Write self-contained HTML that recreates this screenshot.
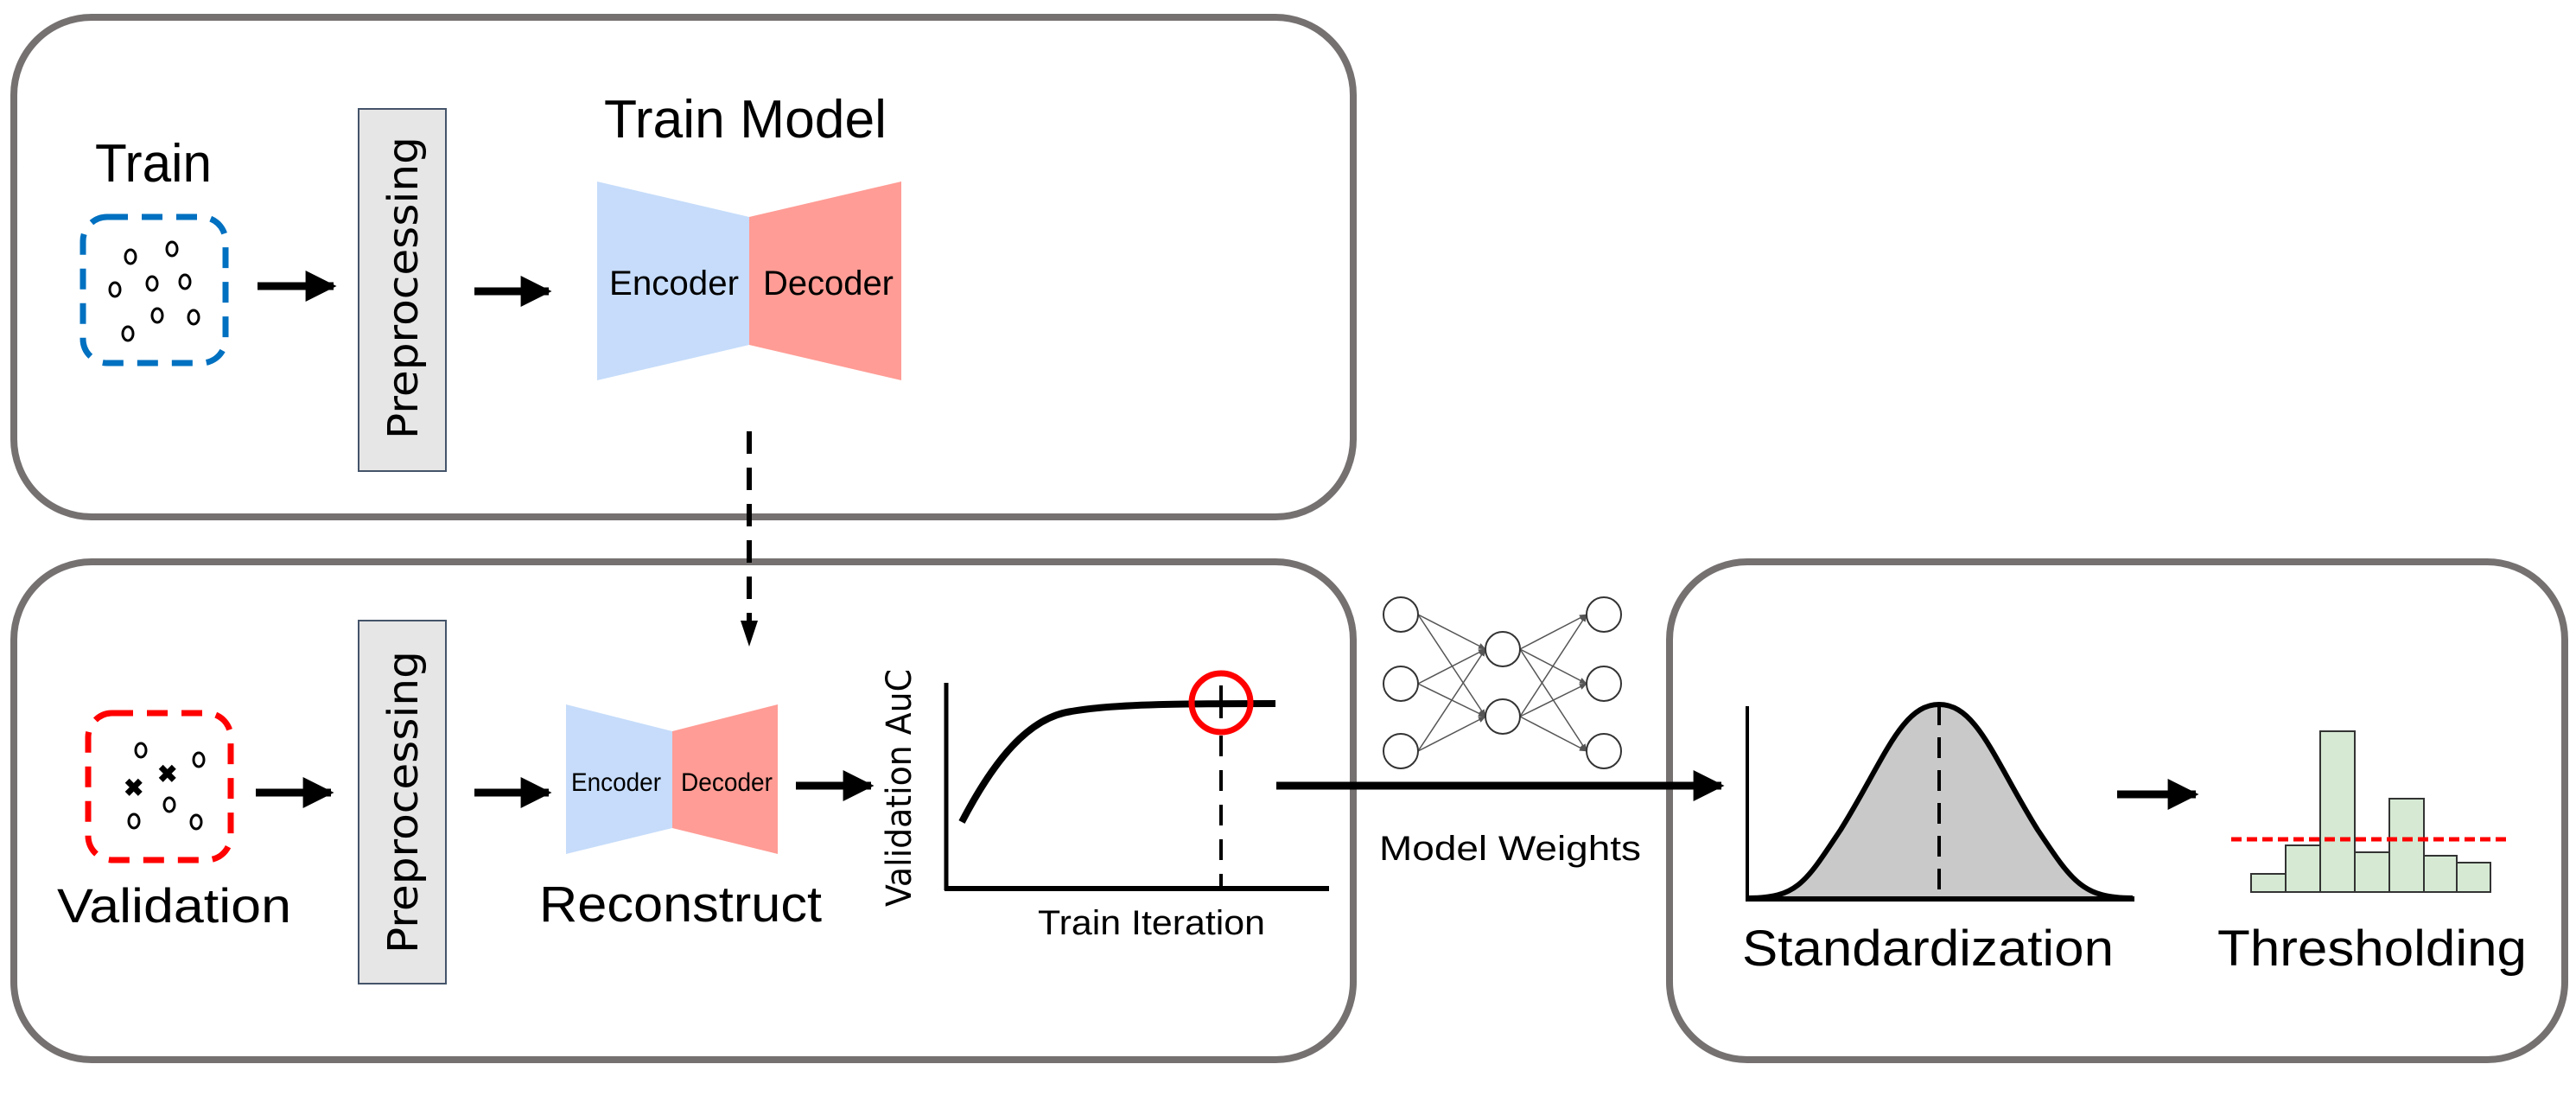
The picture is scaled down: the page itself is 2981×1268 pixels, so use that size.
<!DOCTYPE html>
<html><head><meta charset="utf-8"><style>
html,body{margin:0;padding:0;background:#fff;}
svg{display:block;}
text{font-family:"Liberation Sans Narrow","Liberation Sans",sans-serif;fill:#000;}
.dv{font-family:"DejaVu Sans","Liberation Sans",sans-serif;}
</style></head><body>
<svg width="2981" height="1268" viewBox="0 0 2981 1268" xmlns="http://www.w3.org/2000/svg">
<defs>
<marker id="ah" viewBox="0 0 10 10" refX="9" refY="5" markerWidth="4" markerHeight="4" orient="auto" markerUnits="strokeWidth"><path d="M0,0 L10,5 L0,10 z" fill="#000"/></marker>
<marker id="sm" viewBox="0 0 10 10" refX="9" refY="5" markerWidth="6" markerHeight="6" orient="auto" markerUnits="strokeWidth"><path d="M0,1 L10,5 L0,9 z" fill="#555"/></marker>
</defs>
<!-- Boxes -->
<rect x="16" y="20" width="1550" height="578" rx="90" fill="none" stroke="#767171" stroke-width="8"/>
<rect x="16" y="650" width="1550" height="576" rx="90" fill="none" stroke="#767171" stroke-width="8"/>
<rect x="1932" y="650" width="1036" height="576" rx="90" fill="none" stroke="#767171" stroke-width="8"/>

<!-- Top: train -->
<text x="110" y="210" font-size="62" textLength="135" lengthAdjust="spacingAndGlyphs">Train</text>
<rect x="96" y="251" width="165" height="169" rx="28" fill="none" stroke="#0070C0" stroke-width="7" stroke-dasharray="24 16"/>
<g fill="none" stroke="#000" stroke-width="3">
<ellipse cx="151" cy="297" rx="6" ry="8"/><ellipse cx="199" cy="288" rx="6" ry="8"/>
<ellipse cx="133" cy="335" rx="6" ry="8"/><ellipse cx="176" cy="328" rx="6" ry="8"/><ellipse cx="214" cy="326" rx="6" ry="8"/>
<ellipse cx="182" cy="365" rx="6" ry="8"/><ellipse cx="224" cy="367" rx="6" ry="8"/><ellipse cx="148" cy="386" rx="6" ry="8"/>
</g>
<line x1="298" y1="331" x2="386" y2="331" stroke="#000" stroke-width="9" marker-end="url(#ah)"/>
<rect x="415" y="126" width="101" height="419" fill="#e7e6e6" stroke="#44546A" stroke-width="2"/>
<text class="dv" x="0" y="0" font-size="48" textLength="350" lengthAdjust="spacingAndGlyphs" transform="translate(483,508) rotate(-90)">Preprocessing</text>
<line x1="549" y1="337" x2="635" y2="337" stroke="#000" stroke-width="9" marker-end="url(#ah)"/>
<text x="699" y="159" font-size="62" textLength="327" lengthAdjust="spacingAndGlyphs">Train Model</text>
<polygon points="691,210 867,251 867,399 691,440" fill="#c6dcfa"/>
<polygon points="867,251 1043,210 1043,440 867,399" fill="#ff9c95"/>
<text x="705" y="341" font-size="40" textLength="150" lengthAdjust="spacingAndGlyphs">Encoder</text>
<text x="883" y="341" font-size="40" textLength="151" lengthAdjust="spacingAndGlyphs">Decoder</text>
<line x1="867" y1="499" x2="867" y2="725" stroke="#000" stroke-width="6" stroke-dasharray="26 16"/>
<polygon points="857,718 877,718 867,748" fill="#000"/>

<!-- Bottom-left: validation -->
<rect x="102" y="825" width="165" height="170" rx="28" fill="none" stroke="#f00" stroke-width="7" stroke-dasharray="24 16"/>
<g fill="none" stroke="#000" stroke-width="3">
<ellipse cx="163" cy="868" rx="6" ry="8"/><ellipse cx="230" cy="879" rx="6" ry="8"/>
<ellipse cx="196" cy="931" rx="6" ry="8"/><ellipse cx="155" cy="950" rx="6" ry="8"/><ellipse cx="227" cy="951" rx="6" ry="8"/>
</g>
<text x="182" y="905" font-size="28" font-weight="bold">✖</text>
<text x="143" y="921" font-size="28" font-weight="bold">✖</text>
<text x="66" y="1067" font-size="56" textLength="271" lengthAdjust="spacingAndGlyphs">Validation</text>
<line x1="296" y1="917" x2="383" y2="917" stroke="#000" stroke-width="9" marker-end="url(#ah)"/>
<rect x="415" y="718" width="101" height="420" fill="#e7e6e6" stroke="#44546A" stroke-width="2"/>
<text class="dv" x="0" y="0" font-size="48" textLength="350" lengthAdjust="spacingAndGlyphs" transform="translate(483,1103) rotate(-90)">Preprocessing</text>
<line x1="549" y1="917" x2="635" y2="917" stroke="#000" stroke-width="9" marker-end="url(#ah)"/>
<polygon points="655,815 778,846 778,958 655,988" fill="#c6dcfa"/>
<polygon points="778,846 900,815 900,988 778,958" fill="#ff9c95"/>
<text x="661" y="915" font-size="30" textLength="104" lengthAdjust="spacingAndGlyphs">Encoder</text>
<text x="788" y="915" font-size="30" textLength="106" lengthAdjust="spacingAndGlyphs">Decoder</text>
<text x="624" y="1066" font-size="58" textLength="327" lengthAdjust="spacingAndGlyphs">Reconstruct</text>
<line x1="921" y1="909" x2="1008" y2="909" stroke="#000" stroke-width="9" marker-end="url(#ah)"/>

<!-- chart -->
<text class="dv" x="0" y="0" font-size="40" textLength="275" lengthAdjust="spacingAndGlyphs" transform="translate(1054,1049) rotate(-90)">Validation AuC</text>
<line x1="1095" y1="790" x2="1095" y2="1030" stroke="#000" stroke-width="5"/>
<line x1="1093" y1="1028" x2="1538" y2="1028" stroke="#000" stroke-width="6"/>
<path d="M1113,951 C1150,880 1190,830 1240,823 C1290,814 1380,814 1476,814" fill="none" stroke="#000" stroke-width="8"/>
<line x1="1413" y1="793" x2="1413" y2="831" stroke="#000" stroke-width="4"/>
<line x1="1413" y1="851" x2="1413" y2="1028" stroke="#000" stroke-width="4" stroke-dasharray="24 16"/>
<circle cx="1413" cy="813" r="34" fill="none" stroke="#f00" stroke-width="7"/>
<text x="1201" y="1081" font-size="40" textLength="263" lengthAdjust="spacingAndGlyphs">Train Iteration</text>

<!-- long arrow -->
<line x1="1477" y1="909" x2="1992" y2="909" stroke="#000" stroke-width="9" marker-end="url(#ah)"/>
<text x="1596" y="995" font-size="40" textLength="303" lengthAdjust="spacingAndGlyphs">Model Weights</text>

<!-- NN -->
<g stroke="#555" stroke-width="1.5" fill="none">
<line x1="1641" y1="711" x2="1719" y2="751" marker-end="url(#sm)"/>
<line x1="1641" y1="711" x2="1719" y2="829" marker-end="url(#sm)"/>
<line x1="1641" y1="791" x2="1719" y2="751" marker-end="url(#sm)"/>
<line x1="1641" y1="791" x2="1719" y2="829" marker-end="url(#sm)"/>
<line x1="1641" y1="869" x2="1719" y2="751" marker-end="url(#sm)"/>
<line x1="1641" y1="869" x2="1719" y2="829" marker-end="url(#sm)"/>
<line x1="1759" y1="751" x2="1836" y2="711" marker-end="url(#sm)"/>
<line x1="1759" y1="751" x2="1836" y2="791" marker-end="url(#sm)"/>
<line x1="1759" y1="751" x2="1836" y2="869" marker-end="url(#sm)"/>
<line x1="1759" y1="829" x2="1836" y2="711" marker-end="url(#sm)"/>
<line x1="1759" y1="829" x2="1836" y2="791" marker-end="url(#sm)"/>
<line x1="1759" y1="829" x2="1836" y2="869" marker-end="url(#sm)"/>
</g>
<g fill="#fff" stroke="#333" stroke-width="2">
<circle cx="1621" cy="711" r="20"/><circle cx="1621" cy="791" r="20"/><circle cx="1621" cy="869" r="20"/>
<circle cx="1739" cy="751" r="20"/><circle cx="1739" cy="829" r="20"/>
<circle cx="1856" cy="711" r="20"/><circle cx="1856" cy="791" r="20"/><circle cx="1856" cy="869" r="20"/>
</g>

<!-- Bell -->
<path d="M2024,1039 C2080,1039 2090,1020 2130,960 C2180,880 2200,815 2244,815 C2288,815 2308,880 2358,960 C2398,1020 2410,1039 2468,1039 Z" fill="#c9c9c9" stroke="none"/>
<path d="M2024,1039 C2080,1039 2090,1020 2130,960 C2180,880 2200,815 2244,815 C2288,815 2308,880 2358,960 C2398,1020 2410,1039 2468,1039" fill="none" stroke="#000" stroke-width="6"/>
<line x1="2022" y1="817" x2="2022" y2="1042" stroke="#000" stroke-width="4"/>
<line x1="2020" y1="1040" x2="2470" y2="1040" stroke="#000" stroke-width="6"/>
<line x1="2244" y1="815" x2="2244" y2="1040" stroke="#000" stroke-width="4" stroke-dasharray="24 14"/>
<text x="2016" y="1117" font-size="58" textLength="430" lengthAdjust="spacingAndGlyphs">Standardization</text>
<line x1="2450" y1="919" x2="2541" y2="919" stroke="#000" stroke-width="9" marker-end="url(#ah)"/>

<!-- Histogram -->
<g fill="#d6ead3" stroke="#333" stroke-width="2">
<rect x="2605" y="1011" width="40" height="21"/>
<rect x="2645" y="978" width="40" height="54"/>
<rect x="2685" y="846" width="40" height="186"/>
<rect x="2725" y="986" width="40" height="46"/>
<rect x="2765" y="924" width="40" height="108"/>
<rect x="2805" y="990" width="38" height="42"/>
<rect x="2843" y="998" width="39" height="34"/>
</g>
<line x1="2582" y1="971" x2="2904" y2="971" stroke="#f00" stroke-width="5" stroke-dasharray="12 6"/>
<text x="2566" y="1117" font-size="58" textLength="358" lengthAdjust="spacingAndGlyphs">Thresholding</text>
</svg>
</body></html>
